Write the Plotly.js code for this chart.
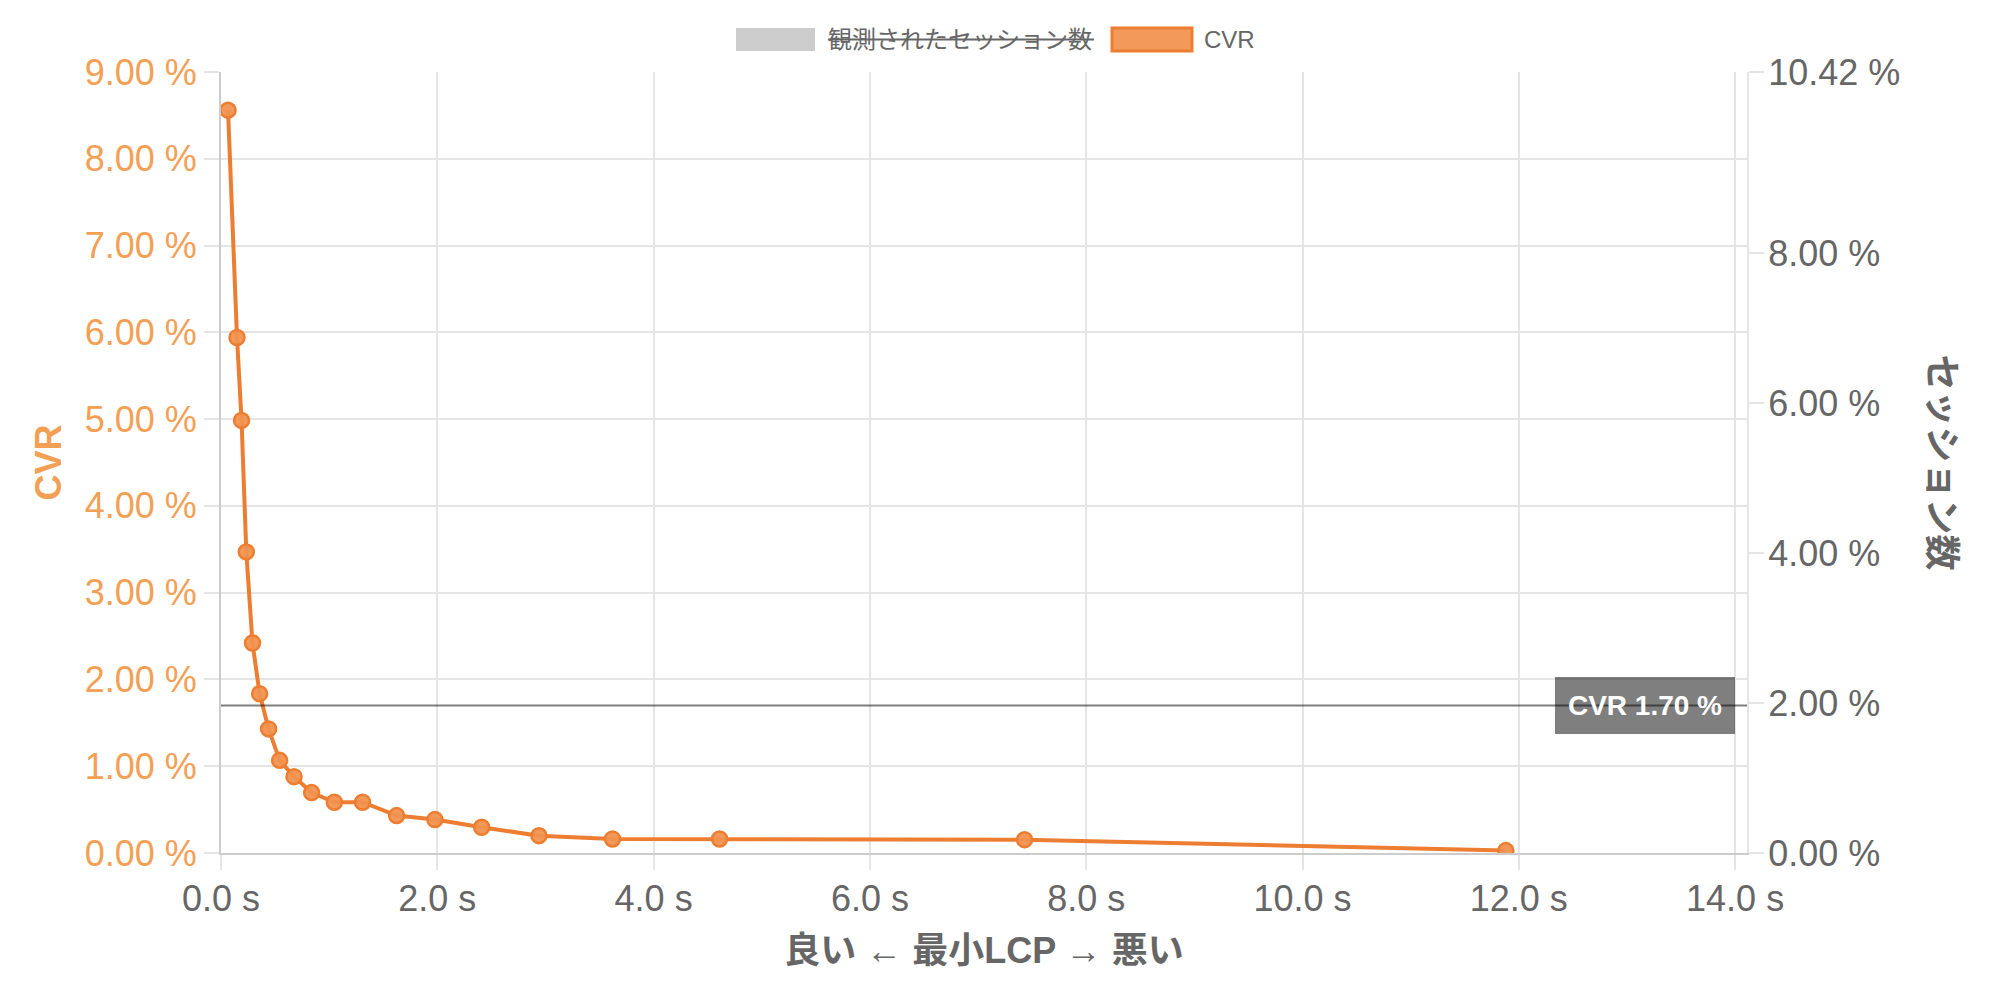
<!DOCTYPE html>
<html>
<head>
<meta charset="utf-8">
<script src="https://cdn.plot.ly/plotly-3.0.1.min.js"></script>
<style>
html,body{margin:0;padding:0;background:#fff;}
#chart{width:1996px;height:1004px;}
</style>
</head>
<body>
<div id="chart"></div>
<script>
// ---- data ----
const lcpSeconds = [0.065, 0.148, 0.19, 0.234, 0.291, 0.357, 0.44, 0.542, 0.675, 0.838,
                    1.048, 1.309, 1.624, 1.978, 2.41, 2.94, 3.62, 4.61, 7.43, 11.88];
const cvrPercent = [8.56, 5.94, 4.985, 3.47, 2.42, 1.836, 1.43, 1.068, 0.88, 0.696,
                    0.585, 0.585, 0.431, 0.385, 0.296, 0.20, 0.162, 0.162, 0.154, 0.028];
const xTickVals = [0, 2, 4, 6, 8, 10, 12, 14];
const xTickText = ['0.0 s', '2.0 s', '4.0 s', '6.0 s', '8.0 s', '10.0 s', '12.0 s', '14.0 s'];
const leftTickVals = [0, 1, 2, 3, 4, 5, 6, 7, 8, 9];
const leftTickText = ['0.00 %', '1.00 %', '2.00 %', '3.00 %', '4.00 %', '5.00 %', '6.00 %', '7.00 %', '8.00 %', '9.00 %'];
const rightTickVals = [0, 2, 4, 6, 8, 10.42];
const rightTickText = ['0.00 %', '2.00 %', '4.00 %', '6.00 %', '8.00 %', '10.42 %'];
const avgCVR = 1.70;
const seriesNames = ['観測されたセッション数', 'CVR'];
const xTitle = '良い ← 最小LCP → 悪い';
const leftTitle = 'CVR';
const rightTitle = 'セッション数';

// ---- styling ----
const FONT = '"Liberation Sans", Arial, "Noto Sans CJK JP", sans-serif';
const GRAY = '#666666';
const ORANGE_TXT = '#F3A055';
const ORANGE = '#ED7D31';
const GRID = '#e5e5e5';

const W = 1996, H = 1004;
const M = {l: 221, r: 249, t: 72, b: 151};
const PW = W - M.l - M.r, PH = H - M.t - M.b;
const px = v => (v - M.l) / PW;          // pixel x -> paper x
const py = v => (M.t + PH - v) / PH;     // pixel y -> paper y

const traces = [
  { // hidden session-count series (toggled off in the reference)
    type: 'bar', x: [], y: [], yaxis: 'y2', name: seriesNames[0],
    showlegend: false, hoverinfo: 'skip'
  },
  {
    type: 'scatter', mode: 'lines+markers', name: seriesNames[1],
    x: lcpSeconds, y: cvrPercent, yaxis: 'y',
    line: {color: ORANGE, width: 4},
    marker: {size: 15, color: 'rgba(241,146,80,0.95)', line: {color: ORANGE, width: 2.5}},
    showlegend: false
  }
];

const shapes = [
  { type: 'line', xref: 'paper', x0: 0, x1: 1, yref: 'y', y0: avgCVR, y1: avgCVR,
    line: {color: 'rgba(0,0,0,0.5)', width: 2} },
  // legend boxes
  { type: 'rect', xref: 'paper', yref: 'paper', x0: px(736), x1: px(815), y0: py(51), y1: py(28),
    fillcolor: '#cccccc', line: {width: 0} },
  { type: 'line', xref: 'paper', yref: 'paper', x0: px(828), x1: px(1094), y0: py(39.5), y1: py(39.5),
    line: {color: GRAY, width: 2} },
  { type: 'rect', xref: 'paper', yref: 'paper', x0: px(1112), x1: px(1192), y0: py(51), y1: py(28),
    fillcolor: '#F39A5B', line: {color: ORANGE, width: 3} }
];

const annotations = [
  { xref: 'x', yref: 'y', x: 14, y: avgCVR, xanchor: 'right', yanchor: 'middle',
    text: '<b>CVR ' + avgCVR.toFixed(2) + ' %</b>', showarrow: false,
    font: {family: FONT, size: 28, color: '#ffffff'},
    bgcolor: 'rgba(0,0,0,0.5)', borderwidth: 0, borderpad: 4, width: 172, height: 49 },
  { xref: 'paper', yref: 'paper', x: px(826), y: py(39.5), xanchor: 'left', yanchor: 'middle',
    text: seriesNames[0], showarrow: false, font: {family: FONT, size: 24, color: GRAY} },
  { xref: 'paper', yref: 'paper', x: px(1202), y: py(39.5), xanchor: 'left', yanchor: 'middle',
    text: seriesNames[1], showarrow: false, font: {family: FONT, size: 24, color: GRAY} },
  { xref: 'paper', yref: 'paper', x: px(1941), y: 0.5, xanchor: 'center', yanchor: 'middle',
    text: '<b>' + rightTitle + '</b>', textangle: 90, showarrow: false,
    font: {family: FONT, size: 36, color: GRAY} }
];

const layout = {
  width: W, height: H,
  margin: M,
  paper_bgcolor: '#ffffff', plot_bgcolor: '#ffffff',
  font: {family: FONT, color: GRAY},
  showlegend: false,
  xaxis: {
    range: [0, 14.11], tickmode: 'array', tickvals: xTickVals, ticktext: xTickText,
    showgrid: true, gridcolor: GRID, gridwidth: 2,
    showline: true, linecolor: '#cccccc', linewidth: 2,
    zeroline: false,
    ticks: 'outside', ticklen: 15, tickcolor: GRID, tickwidth: 2,
    tickfont: {family: FONT, size: 36, color: GRAY},
    ticklabelstandoff: -2,
    title: {text: '<b>' + xTitle + '</b>', font: {family: FONT, size: 36, color: GRAY}, standoff: 20},
    automargin: false
  },
  yaxis: {
    range: [0, 9], tickmode: 'array', tickvals: leftTickVals, ticktext: leftTickText,
    showgrid: true, gridcolor: GRID, gridwidth: 2,
    showline: true, linecolor: '#cccccc', linewidth: 2,
    zeroline: false,
    ticks: 'outside', ticklen: 15, tickcolor: GRID, tickwidth: 2,
    tickfont: {family: FONT, size: 36, color: ORANGE_TXT},
    ticklabelstandoff: 0,
    title: {text: '<b>' + leftTitle + '</b>', font: {family: FONT, size: 36, color: ORANGE_TXT}, standoff: 12},
    automargin: true
  },
  yaxis2: {
    overlaying: 'y', side: 'right', anchor: 'x',
    range: [0, 10.42], tickmode: 'array', tickvals: rightTickVals, ticktext: rightTickText,
    showgrid: false, zeroline: false,
    showline: true, linecolor: GRID, linewidth: 2,
    ticks: 'outside', ticklen: 15, tickcolor: GRID, tickwidth: 2,
    tickfont: {family: FONT, size: 36, color: GRAY},
    ticklabelstandoff: -3
  },
  shapes: shapes,
  annotations: annotations
};

Plotly.newPlot('chart', traces, layout, {displayModeBar: false, staticPlot: true});
</script>
</body>
</html>
